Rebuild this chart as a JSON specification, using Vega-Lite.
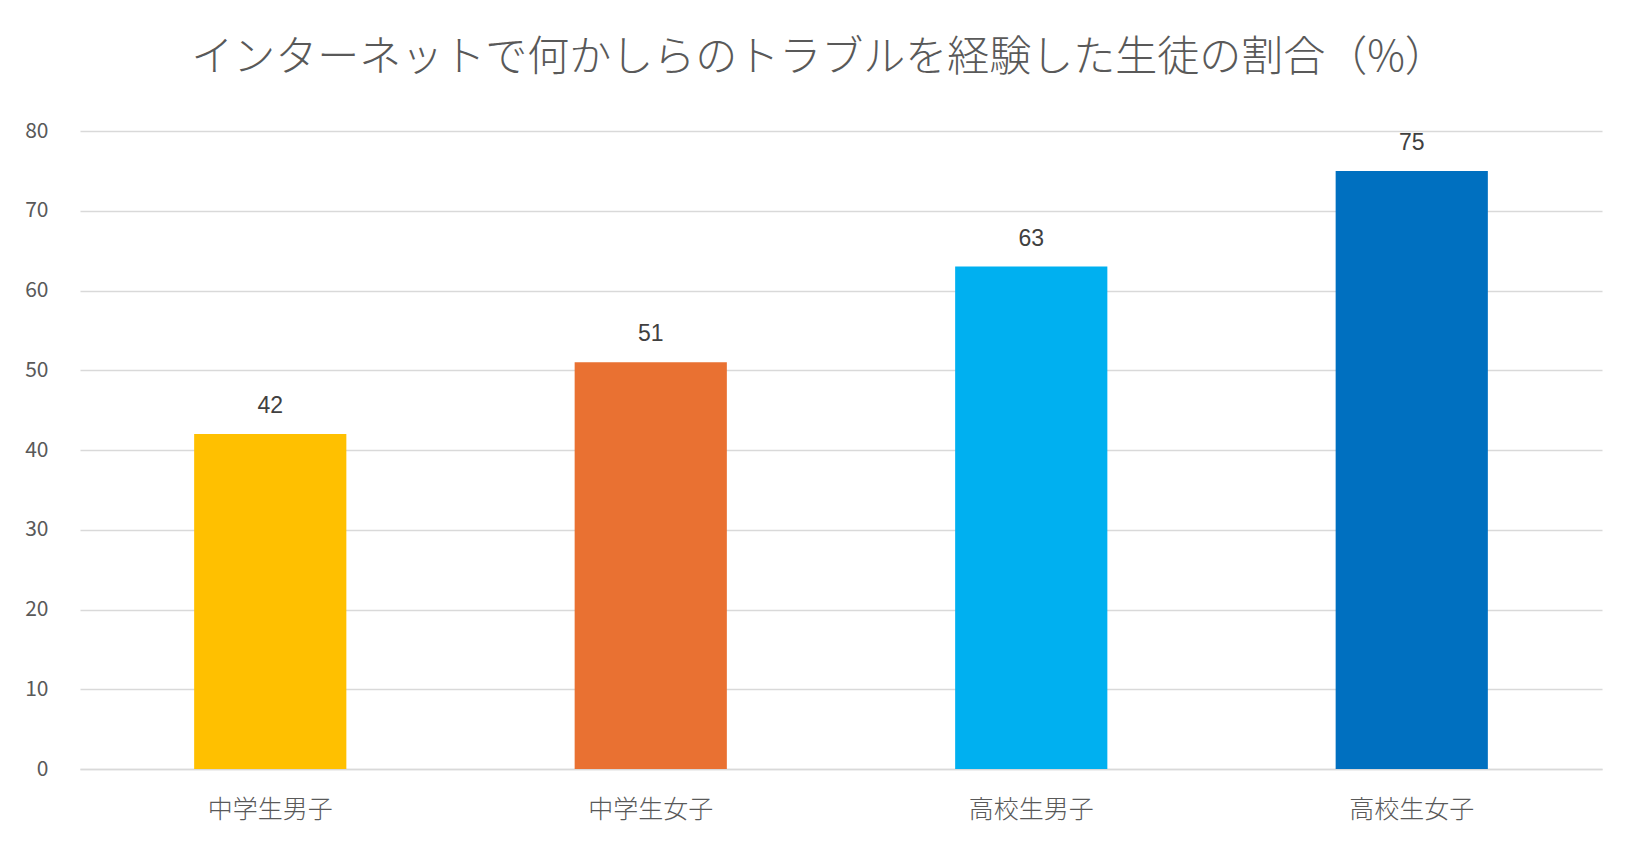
{
  "$schema": "https://vega.github.io/schema/vega-lite/v6.json",
  "autosize": {"type": "none"},
  "width": 1522,
  "height": 638,
  "padding": {"left": 80, "top": 131, "right": 38, "bottom": 90},
  "background": "white",
  "title": {
    "text": "インターネットで何かしらのトラブルを経験した生徒の割合（%）",
    "font": "Noto Sans CJK JP",
    "fontSize": 42,
    "fontWeight": 300,
    "color": "#595959",
    "anchor": "middle",
    "dx": -22,
    "offset": 40
  },
  "data": {
    "values": [
      {"group": "中学生男子", "pct": 42},
      {"group": "中学生女子", "pct": 51},
      {"group": "高校生男子", "pct": 63},
      {"group": "高校生女子", "pct": 75}
    ]
  },
  "encoding": {
    "x": {
      "field": "group", "type": "nominal", "sort": null, "title": null,
      "scale": {"paddingInner": 0.6, "paddingOuter": 0.3},
      "axis": {
        "labelAngle": 0, "ticks": false, "domainColor": "#d9d9d9", "domainWidth": 1.5,
        "labelFont": "Noto Sans CJK JP", "labelFontSize": 25, "labelFontWeight": 300, "labelColor": "#595959",
        "labelPadding": 28
      }
    },
    "y": {
      "field": "pct", "type": "quantitative", "title": null,
      "scale": {"domain": [0, 80]},
      "axis": {
        "values": [0, 10, 20, 30, 40, 50, 60, 70, 80],
        "domain": false, "ticks": false, "gridColor": "#d9d9d9", "gridWidth": 1.5,
        "labelFont": "Noto Sans CJK JP", "labelFontSize": 21, "labelColor": "#595959",
        "labelPadding": 32
      }
    }
  },
  "layer": [
    {
      "mark": {"type": "bar"},
      "encoding": {
        "color": {
          "field": "group", "type": "nominal", "legend": null,
          "scale": {
            "domain": ["中学生男子", "中学生女子", "高校生男子", "高校生女子"],
            "range": ["#FFC000", "#E97132", "#00B0F0", "#0070C0"]
          }
        }
      }
    },
    {
      "mark": {"type": "text", "baseline": "alphabetic", "dy": -21, "font": "Liberation Sans", "fontSize": 23, "color": "#404040"},
      "encoding": {"text": {"field": "pct", "type": "quantitative"}}
    }
  ],
  "config": {
    "view": {"stroke": null}
  }
}
